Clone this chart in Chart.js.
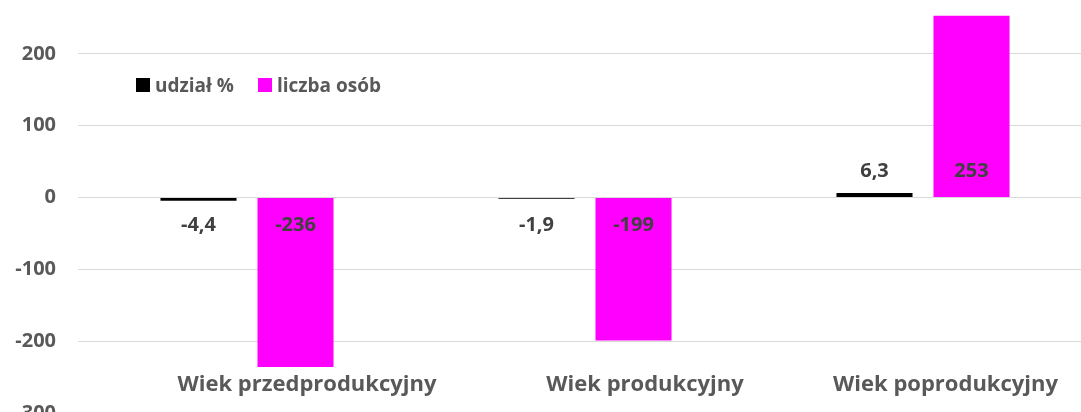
<!DOCTYPE html>
<html>
<head>
<meta charset="utf-8">
<script src="https://cdn.jsdelivr.net/npm/chart.js@4"></script>
<style>
  html, body { margin: 0; padding: 0; background: #fff; overflow: hidden; width: 1081px; height: 412px; }
  #wrap { position: relative; width: 1081px; height: 412px; overflow: hidden; }
  #chart { position: absolute; left: 0; top: -52px; }
  #legend { position: absolute; left: 136px; top: 72px; font: bold 19px "Open Sans", sans-serif; color: #595959; display: flex; align-items: center; }
  #legend span.box { display: inline-block; width: 14px; height: 14px; margin-right: 5px; }
  #legend span.item { display: inline-flex; align-items: center; margin-right: 24px; }
</style>
</head>
<body>
<div id="wrap">
  <canvas id="chart" width="1100" height="505"></canvas>
  <div id="legend"></div>
</div>
<script>
// Data
const categories = ['Wiek przedprodukcyjny', 'Wiek produkcyjny', 'Wiek poprodukcyjny'];
const udzial = [-4.4, -1.9, 6.3];
const liczbaOsob = [-236, -199, 253];
const yTicks = [300, 200, 100, 0, -100, -200, -300];

const seriesNames = ['udział %', 'liczba osób'];
const seriesColors = ['#000000', '#ff00ff'];

// legend
const legendEl = document.getElementById('legend');
seriesNames.forEach((name, i) => {
  const item = document.createElement('span');
  item.className = 'item';
  item.innerHTML = '<span class="box" style="background:' + seriesColors[i] + '"></span>' + name;
  legendEl.appendChild(item);
});

// value labels near the zero line
const valueLabels = {
  id: 'valueLabels',
  afterDatasetsDraw(chart) {
    const ctx = chart.ctx;
    const zero = chart.scales.y.getPixelForValue(0);
    ctx.save();
    ctx.font = 'bold 20px "Open Sans", sans-serif';
    ctx.fillStyle = '#404040';
    ctx.textAlign = 'center';
    ctx.textBaseline = 'middle';
    chart.data.datasets.forEach((ds, di) => {
      chart.getDatasetMeta(di).data.forEach((bar, i) => {
        const v = ds.data[i];
        const txt = di === 0 ? v.toFixed(1).replace('.', ',') : String(v);
        const y = v >= 0 ? zero - 26 : zero + 28;
        ctx.fillText(txt, bar.x, y);
      });
    });
    ctx.restore();
  }
};

// category labels sit inside the plot, near the bottom, kept inside the visible width
const categoryLabels = {
  id: 'categoryLabels',
  afterDraw(chart) {
    const ctx = chart.ctx;
    const xs = chart.scales.x;
    const maxRight = document.getElementById('wrap').clientWidth - 23;
    ctx.save();
    ctx.font = 'bold 22px "Open Sans", sans-serif';
    ctx.fillStyle = '#595959';
    ctx.textAlign = 'center';
    ctx.textBaseline = 'middle';
    chart.data.labels.forEach((lab, i) => {
      const half = ctx.measureText(lab).width / 2;
      const x = Math.min(xs.getPixelForTick(i) + 60, maxRight - half);
      ctx.fillText(lab, x, chart.chartArea.bottom - 28);
    });
    ctx.restore();
  }
};

const ctx = document.getElementById('chart').getContext('2d');
new Chart(ctx, {
  type: 'bar',
  data: {
    labels: categories,
    datasets: [
      { label: seriesNames[0], data: udzial, backgroundColor: seriesColors[0] },
      { label: seriesNames[1], data: liczbaOsob, backgroundColor: seriesColors[1] }
    ]
  },
  options: {
    responsive: false,
    animation: false,
    devicePixelRatio: 1,
    categoryPercentage: 0.574,
    barPercentage: 0.784,
    layout: { padding: { top: 9, right: 8, left: 0, bottom: 0 } },
    plugins: {
      legend: { display: false },
      tooltip: { enabled: false }
    },
    scales: {
      x: {
        grid: { display: false },
        border: { display: false },
        ticks: { display: false },
        afterFit(scale) { scale.height = 40; }
      },
      y: {
        min: -300,
        max: 300,
        afterBuildTicks(scale) { scale.ticks = yTicks.map(v => ({ value: v })); },
        grid: { color: '#d9d9d9', lineWidth: 1, drawTicks: false },
        border: { display: false },
        ticks: {
          color: '#595959',
          font: { family: 'Open Sans', size: 20, weight: 'bold' },
          padding: 22
        },
        afterFit(scale) { scale.width = 78; }
      }
    }
  },
  plugins: [valueLabels, categoryLabels]
});
</script>
</body>
</html>
